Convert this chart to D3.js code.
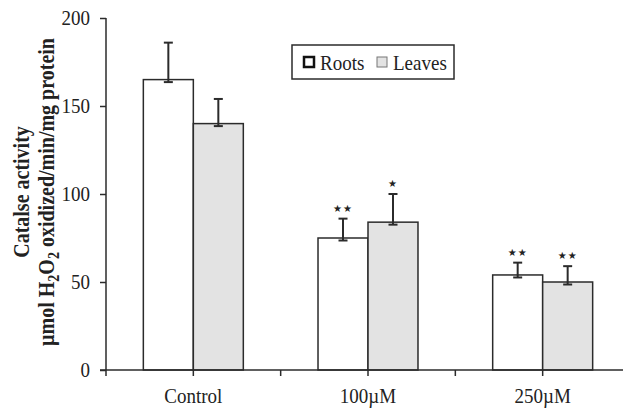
<!DOCTYPE html>
<html>
<head>
<meta charset="utf-8">
<script src="https://cdnjs.cloudflare.com/ajax/libs/d3/7.8.5/d3.min.js"></script>
<style>
  body { margin: 0; background: #fff; }
  svg { display: block; font-family: "Liberation Serif", "Times New Roman", serif; }
</style>
</head>
<body>
<div id="chart"></div>
<script>
// Chart data
const categories = ['Control', '100\u00b5M', '250\u00b5M'];
const seriesNames = ['Roots', 'Leaves'];
const rootsValues = [165, 75, 54];
const leavesValues = [140, 84, 50];
const rootsErrors = [21, 11, 7];
const leavesErrors = [14, 16, 9];
const rootsMarks = ['', '**', '**'];
const leavesMarks = ['', '*', '**'];
const yTicks = [0, 50, 100, 150, 200];

const W = 623, H = 408;
const margin = { left: 106, top: 18, bottom: 38 };
const STRETCH = 'scale(1,1.15)';   // source text is a little taller than normal

const svg = d3.select('#chart')
  .append('svg')
    .attr('width', W)
    .attr('height', H);

let xscale = d3.scaleBand()
  .domain(categories)
  .range([margin.left, 630])
  .paddingInner(0)
  .paddingOuter(0);

let xsub = d3.scaleBand()
  .domain(seriesNames)
  .range([0, xscale.bandwidth()])
  .paddingInner(0)
  .paddingOuter(0.747);

let yscale = d3.scaleLinear()
  .domain([0, 200])
  .range([H - margin.bottom, margin.top]);

const fills = { Roots: '#ffffff', Leaves: '#e3e3e3' };

// flatten into rows for drawing
const rows = [];
categories.forEach((c, i) => {
  rows.push({ cat: c, s: 'Roots', v: rootsValues[i], e: rootsErrors[i], mark: rootsMarks[i] });
  rows.push({ cat: c, s: 'Leaves', v: leavesValues[i], e: leavesErrors[i], mark: leavesMarks[i] });
});

// bars
svg.append('g')
  .selectAll('rect')
  .data(rows)
  .enter().append('rect')
    .attr('x', d => xscale(d.cat) + xsub(d.s))
    .attr('y', d => yscale(d.v))
    .attr('width', xsub.bandwidth())
    .attr('height', d => yscale(0) - yscale(d.v))
    .attr('fill', d => fills[d.s])
    .attr('stroke', '#2b2b2b')
    .attr('stroke-width', 1.5);

// error bars (upper whisker, small cap just under the bar top)
const errG = svg.append('g')
  .attr('stroke', '#2b2b2b')
  .attr('stroke-width', 2);
let cx = d => xscale(d.cat) + xsub(d.s) + xsub.bandwidth() / 2;
errG.selectAll('.whisker')
  .data(rows)
  .enter().append('line')
    .attr('x1', cx).attr('x2', cx)
    .attr('y1', d => yscale(d.v) + 2.5)
    .attr('y2', d => yscale(d.v + d.e));
errG.selectAll('.capTop')
  .data(rows)
  .enter().append('line')
    .attr('x1', d => cx(d) - 4.5).attr('x2', d => cx(d) + 4.5)
    .attr('y1', d => yscale(d.v + d.e)).attr('y2', d => yscale(d.v + d.e));
errG.selectAll('.capBot')
  .data(rows)
  .enter().append('line')
    .attr('x1', d => cx(d) - 4.5).attr('x2', d => cx(d) + 4.5)
    .attr('y1', d => yscale(d.v) + 2.5).attr('y2', d => yscale(d.v) + 2.5);

// significance stars
svg.append('g')
  .selectAll('text')
  .data(rows.filter(d => d.mark))
  .enter().append('text')
    .attr('x', cx)
    .attr('y', d => yscale(d.v + d.e) - 7)
    .attr('text-anchor', 'middle')
    .style('font-family', '"DejaVu Sans", sans-serif')
    .style('font-size', '10px')
    .style('letter-spacing', '1px')
    .attr('fill', '#222')
    .text(d => d.mark.replace(/\*/g, '\u2605'));

// y axis
const yAxis = svg.append('g')
  .attr('transform', 'translate(' + margin.left + ',0)')
  .call(d3.axisLeft(yscale).tickValues(yTicks).tickSize(6).tickPadding(10));
yAxis.selectAll('path, line').attr('stroke', '#2b2b2b').attr('stroke-width', 1.5);
yAxis.select('path').attr('d', 'M0,' + yscale(200) + 'V' + yscale(0));
yAxis.selectAll('text')
  .attr('dy', '0.28em')
  .attr('transform', STRETCH)
  .style('font-family', '"Liberation Serif", serif')
  .style('font-size', '19px')
  .attr('fill', '#222');

// x axis: baseline with ticks at category edges and centers
const xg = svg.append('g');
xg.append('line')
  .attr('x1', margin.left - 6).attr('x2', W)
  .attr('y1', yscale(0)).attr('y2', yscale(0))
  .attr('stroke', '#2b2b2b').attr('stroke-width', 1.5);
const tickXs = [];
categories.forEach(c => {
  tickXs.push(xscale(c));
  tickXs.push(xscale(c) + xscale.bandwidth() / 2);
});
xg.selectAll('.xt')
  .data(tickXs)
  .enter().append('line')
    .attr('x1', d => d).attr('x2', d => d)
    .attr('y1', yscale(0)).attr('y2', yscale(0) + 6)
    .attr('stroke', '#2b2b2b').attr('stroke-width', 1.5);
xg.selectAll('.xl')
  .data(categories)
  .enter().append('text')
    .attr('transform', d => 'translate(' + (xscale(d) + xscale.bandwidth() / 2) + ',403) ' + STRETCH)
    .attr('text-anchor', 'middle')
    .style('font-size', '19px')
    .attr('fill', '#222')
    .text(d => d);

// y axis title, two lines, bold
const title = svg.append('text')
  .attr('transform', 'translate(0,192) rotate(-90) ' + STRETCH)
  .attr('text-anchor', 'middle')
  .style('font-size', '20px')
  .style('font-weight', 'bold')
  .attr('fill', '#222');
title.append('tspan').attr('x', 0).attr('y', 25).text('Catalse activity');
const l2 = title.append('tspan').attr('x', 0).attr('y', 47);
l2.append('tspan').text('\u00b5mol H');
l2.append('tspan').attr('dy', 4).style('font-size', '14px').text('2');
l2.append('tspan').attr('dy', -4).text('O');
l2.append('tspan').attr('dy', 4).style('font-size', '14px').text('2');
l2.append('tspan').attr('dy', -4).text(' oxidized/min/mg protein');

// legend
const lg = svg.append('g').attr('transform', 'translate(292,45)');
lg.append('rect')
  .attr('width', 162).attr('height', 34)
  .attr('fill', '#fff')
  .attr('stroke', '#2b2b2b').attr('stroke-width', 1.5);
const legendItems = [
  { s: 'Roots', box: 12, tx: 28, stroke: '#111', sw: 2.5 },
  { s: 'Leaves', box: 85, tx: 101, stroke: '#777', sw: 1 }
];
lg.selectAll('.lb')
  .data(legendItems)
  .enter().append('rect')
    .attr('x', d => d.box).attr('y', 12)
    .attr('width', 10).attr('height', 10)
    .attr('fill', d => fills[d.s])
    .attr('stroke', d => d.stroke)
    .attr('stroke-width', d => d.sw);
lg.selectAll('.lt')
  .data(legendItems)
  .enter().append('text')
    .attr('transform', d => 'translate(' + d.tx + ',25) ' + STRETCH)
    .style('font-size', '19px')
    .attr('fill', '#222')
    .text(d => d.s);
</script>
</body>
</html>
